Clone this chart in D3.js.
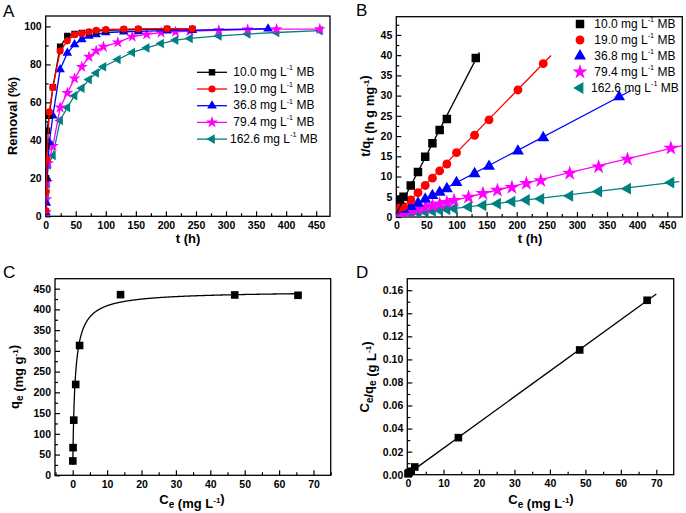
<!DOCTYPE html>
<html><head><meta charset="utf-8">
<script src="https://cdn.jsdelivr.net/npm/d3@7"></script>
<style>body{margin:0;background:#fff} svg{display:block;font-family:"Liberation Sans",Arial,sans-serif}</style>
</head><body><svg id="c" width="686" height="513"></svg>
<script>
// ---------------- DATA ----------------
const seriesLabels = ["10.0", "19.0", "36.8", "79.4", "162.6"];

// Panel A: removal (%) vs t (h)
const tA_10 = [0.5, 1, 2, 6, 12, 24, 36, 48, 60, 72, 84, 100, 130, 154, 202, 244];
const remA_10 = [20, 37, 45, 53, 68, 89.3, 95, 96, 96.5, 97, 97.5, 98, 98.2, 98.4, 98.6, 98.7];
const tA_19 = [0.5, 1, 2, 6, 12, 24, 36, 48, 60, 72, 84, 100, 130, 154, 202, 244];
const remA_19 = [3, 13, 30, 55, 68, 87, 92.4, 95.6, 96.3, 97.2, 98, 98.4, 98.6, 98.7, 98.8, 98.8];
const tA_36 = [0.5, 1, 2, 6, 12, 24, 36, 48, 60, 72, 84, 100, 130, 154, 202, 244, 370];
const remA_36 = [2, 7, 20, 39, 53, 77.3, 86, 90.5, 93.2, 95, 95.8, 96.8, 97.2, 97.4, 97.8, 98, 98.8];
const tA_79 = [0.5, 1, 2, 4, 12, 24, 36, 48, 60, 72, 84, 96, 120, 144, 168, 192, 216, 240, 288, 336, 384, 456];
const remA_79 = [2, 9, 18, 28, 37, 57.3, 65, 72.6, 78.7, 84, 87.2, 89.3, 91.6, 94.6, 95.8, 96.8, 97.2, 97.6, 98, 98.4, 98.6, 98.6];
const tA_162 = [0.5, 1, 2, 4, 12, 24, 36, 48, 60, 72, 84, 96, 120, 144, 168, 192, 216, 240, 288, 336, 384, 456];
const remA_162 = [2, 10, 17, 27, 32, 50.5, 57.3, 63.5, 67.5, 72, 75.5, 78.8, 82.6, 86.3, 88.7, 91, 92.8, 93.7, 95, 96, 96.8, 97.8];

// Panel B: t/qt vs t, with linear fits
const tB_10 = [6, 12, 24, 36, 48, 60, 72, 84, 132];
const tqB_10 = [4.3, 5.0, 7.8, 11.1, 14.9, 18.2, 21.5, 24.2, 39.3];
const tB_19 = [6, 12, 24, 36, 48, 60, 72, 84, 100, 130, 154, 202, 244];
const tqB_19 = [2.4, 2.6, 4.2, 6.0, 7.8, 9.6, 11.4, 13.1, 15.9, 20.2, 24.0, 31.4, 37.9];
const tB_36 = [2, 6, 12, 24, 36, 48, 60, 72, 84, 100, 130, 154, 202, 244, 370];
const tqB_36 = [2.8, 2.3, 1.9, 2.6, 3.4, 4.4, 5.3, 6.1, 7.0, 8.5, 10.7, 12.5, 16.3, 19.6, 29.7];
const tB_79 = [6, 12, 24, 36, 48, 60, 72, 84, 96, 120, 144, 168, 192, 216, 240, 288, 336, 384, 456];
const tqB_79 = [1.2, 1.3, 1.6, 2.0, 2.4, 2.8, 3.2, 3.6, 4.1, 4.9, 5.8, 6.6, 7.3, 8.3, 9.0, 10.8, 12.4, 14.3, 17.0];
const tB_162 = [6, 12, 24, 36, 48, 60, 72, 84, 96, 120, 144, 168, 192, 216, 240, 288, 336, 384, 456];
const tqB_162 = [0.6, 0.7, 0.9, 1.1, 1.3, 1.5, 1.7, 1.9, 2.1, 2.5, 2.9, 3.3, 3.8, 4.2, 4.5, 5.2, 6.3, 7.0, 8.5];
const fitB_slope = [0.289, 0.153, 0.0785, 0.0358, 0.0178];
const fitB_intercept = [0.8, 0.6, 0.65, 0.66, 0.38];
const fitB_tEnd = [138, 257, 390, 475, 470];

// Panel C: qe vs Ce, isotherm fit curve (Sips form)
const ceC = [0.03, 0.1, 0.3, 0.87, 2.0, 13.9, 47.1, 65.5];
const qeC = [34.6, 66.7, 133, 219, 313, 435.6, 434.8, 434];
const fitC_qm = 445, fitC_K = 1.477, fitC_n = 0.9;

// Panel D: Ce/qe vs Ce, linear fit
const ceD = [0.03, 0.1, 0.3, 0.9, 1.9, 14.2, 48.4, 67.4];
const ratioD = [0.0008, 0.0012, 0.0018, 0.0030, 0.0067, 0.0321, 0.1082, 0.1513];
const fitD_slope = 0.00223, fitD_intercept = 0.0007, fitD_range = [0.5, 70];

// tick definitions
const ticksA_x = d3.range(0, 451, 50), ticksA_y = d3.range(0, 101, 20);
const ticksB_x = d3.range(0, 451, 50), ticksB_y = d3.range(0, 46, 5);
const ticksC_x = d3.range(0, 71, 10), ticksC_y = d3.range(0, 451, 50);
const ticksD_x = d3.range(0, 71, 10), ticksD_y = d3.range(0, 0.161, 0.02);

// ---------------- STYLE ----------------
const colors = ["#000000", "#ff0000", "#0000ff", "#ff00ff", "#008080"];
const symbols = [d3.symbolSquare, d3.symbolCircle, d3.symbolTriangle, d3.symbolStar, d3.symbolTriangle];
const rotations = [0, 0, 0, 0, -90];
const TICK_FS = 10.5, LEG_FS = 12;

const svg = d3.select("#c");

function makePanel(o) {
  const x = d3.scaleLinear().domain(o.xd).range([o.l, o.r]);
  const y = d3.scaleLinear().domain(o.yd).range([o.b, o.t]);
  const g = svg.append("g");
  const clipId = "clip" + o.id;
  svg.append("clipPath").attr("id", clipId).append("rect")
    .attr("x", o.l).attr("y", o.t).attr("width", o.r - o.l).attr("height", o.b - o.t);
  g.append("g").attr("transform", `translate(0,${o.b})`)
    .call(d3.axisBottom(x).tickValues(o.xMinor).tickSize(-3).tickFormat(""))
    .call(s => s.select(".domain").remove())
    .call(s => s.selectAll("line").attr("stroke-width", 1.2));
  g.append("g").attr("transform", `translate(${o.l},0)`)
    .call(d3.axisLeft(y).tickValues(o.yMinor).tickSize(-3).tickFormat(""))
    .call(s => s.select(".domain").remove())
    .call(s => s.selectAll("line").attr("stroke-width", 1.2));
  const xa = g.append("g").attr("transform", `translate(0,${o.b})`)
    .call(d3.axisBottom(x).tickValues(o.xt).tickSize(-5).tickPadding(4).tickFormat(o.xf || d3.format("d")));
  const ya = g.append("g").attr("transform", `translate(${o.l},0)`)
    .call(d3.axisLeft(y).tickValues(o.yt).tickSize(-5).tickPadding(4).tickFormat(o.yf || d3.format("d")));
  [xa, ya].forEach(a => {
    a.select(".domain").remove();
    a.selectAll("line").attr("stroke-width", 1.2);
    a.selectAll("text").attr("font-size", TICK_FS).attr("font-weight", "bold").attr("fill", "#000")
      .attr("font-family", '"Liberation Sans",Arial,sans-serif');
  });
  xa.selectAll("text").attr("dy", "0.8em");
  g.append("rect").attr("x", o.l).attr("y", o.t).attr("width", o.r - o.l).attr("height", o.b - o.t)
    .attr("fill", "none").attr("stroke", "#000").attr("stroke-width", 1.3);
  svg.append("text").attr("x", o.letterX).attr("y", o.letterY).attr("font-size", 17).text(o.letter);
  return {x, y, g, clip: `url(#${clipId})`};
}

function addLabel(parts, x, y, rotate) {
  const t = svg.append("text").attr("font-size", 13).attr("font-weight", "bold")
    .attr("text-anchor", "middle")
    .attr("transform", `translate(${x},${y})` + (rotate ? " rotate(-90)" : ""));
  parts.forEach(p => {
    if (p.sub) {
      t.append("tspan").attr("font-size", 10).attr("dy", 3.5).text(p.sub);
      t.append("tspan").attr("dy", -3.5).text("");
    } else if (p.sup) {
      t.append("tspan").attr("font-size", 8).attr("dy", -5).text(p.sup);
      t.append("tspan").attr("dy", 5).text("");
    } else t.append("tspan").text(p.t);
  });
}

function marker(g, xs, ys, sc, i, size) {
  g.selectAll(null).data(xs.map((v, k) => [v, ys[k]])).enter().append("path")
    .attr("d", d3.symbol().type(symbols[i]).size(size))
    .attr("transform", d => `translate(${sc.x(d[0])},${sc.y(d[1])}) rotate(${rotations[i]})`)
    .attr("fill", colors[i]);
}

function legendText(g, x, y, label, fs) {
  const t = g.append("text").attr("x", x).attr("y", y).attr("font-size", fs).attr("dominant-baseline", "middle");
  t.append("tspan").text((label.length < 5 ? "\u00a0" : "") + label + " mg L");
  t.append("tspan").attr("font-size", fs * 0.6).attr("dy", -4.5).text("-1");
  t.append("tspan").attr("dy", 4.5).text(" MB");
}

// ---------------- PANEL A ----------------
const A = makePanel({id: "A", l: 45.7, r: 330, t: 16, b: 216.3, xd: [0, 473], yd: [0, 105.5],
  xt: ticksA_x, yt: ticksA_y, xMinor: d3.range(25, 473, 50), yMinor: d3.range(10, 105, 20),
  letter: "A", letterX: 3, letterY: 17});
addLabel([{t: "Removal (%)"}], 17, 116, true);
addLabel([{t: "t (h)"}], 188, 243, false);
const dataA = [[tA_10, remA_10], [tA_19, remA_19], [tA_36, remA_36], [tA_79, remA_79], [tA_162, remA_162]];
const gA = A.g.append("g").attr("clip-path", A.clip);
const mSizeA = [42, 40, 40, 45, 40];
[4, 3, 2, 0, 1].forEach(i => {
  const [ts, vs] = dataA[i];
  gA.append("path").datum(ts.map((t, k) => [t, vs[k]]))
    .attr("d", d3.line().x(d => A.x(d[0])).y(d => A.y(d[1])))
    .attr("fill", "none").attr("stroke", colors[i]).attr("stroke-width", 1.3);
  marker(gA, ts, vs, A, i, mSizeA[i]);
});
const legA = svg.append("g");
seriesLabels.forEach((lab, i) => {
  const yy = 72.3 + i * 16.7;
  legA.append("line").attr("x1", 197).attr("x2", 227).attr("y1", yy).attr("y2", yy)
    .attr("stroke", colors[i]).attr("stroke-width", 1.3);
  legA.append("path").attr("d", d3.symbol().type(symbols[i]).size(mSizeA[i]))
    .attr("transform", `translate(212,${yy}) rotate(${rotations[i]})`).attr("fill", colors[i]);
  legendText(legA, 230, yy + 0.5, lab, LEG_FS);
});

// ---------------- PANEL B ----------------
const B = makePanel({id: "B", l: 396.3, r: 682.3, t: 16.7, b: 217, xd: [0, 475], yd: [0, 49.5],
  xt: ticksB_x, yt: ticksB_y, xMinor: d3.range(25, 475, 50), yMinor: d3.range(2.5, 49, 5),
  letter: "B", letterX: 356, letterY: 16});
addLabel([{t: "t/q"}, {sub: "t"}, {t: " (h g mg"}, {sup: "-1"}, {t: ")"}], 370, 116, true);
addLabel([{t: "t (h)"}], 530, 243, false);
const dataB = [[tB_10, tqB_10], [tB_19, tqB_19], [tB_36, tqB_36], [tB_79, tqB_79], [tB_162, tqB_162]];
const gB = B.g.append("g").attr("clip-path", B.clip);
const mSizeB = [72, 62, 62, 70, 60];
[4, 3, 2, 1, 0].forEach(i => {
  const line = [0, fitB_tEnd[i]].map(t => [t, fitB_intercept[i] + fitB_slope[i] * t]);
  gB.append("path").datum(line)
    .attr("d", d3.line().x(d => B.x(d[0])).y(d => B.y(d[1])))
    .attr("fill", "none").attr("stroke", colors[i]).attr("stroke-width", 1.3);
  marker(gB, dataB[i][0], dataB[i][1], B, i, mSizeB[i]);
});
const legB = svg.append("g");
seriesLabels.forEach((lab, i) => {
  const yy = 24 + i * 16;
  legB.append("path").attr("d", d3.symbol().type(symbols[i]).size(mSizeB[i]))
    .attr("transform", `translate(580,${yy}) rotate(${rotations[i]})`).attr("fill", colors[i]);
  legendText(legB, 591, yy + 0.5, lab, LEG_FS);
});

// ---------------- PANEL C ----------------
const C = makePanel({id: "C", l: 55, r: 330.7, t: 278.7, b: 475.3, xd: [-5.15, 75], yd: [0, 474],
  xt: ticksC_x, yt: ticksC_y, xMinor: d3.range(-5, 76, 10), yMinor: d3.range(25, 474, 50),
  letter: "C", letterX: 3, letterY: 278});
addLabel([{t: "q"}, {sub: "e"}, {t: " (mg g"}, {sup: "-1"}, {t: ")"}], 19, 377, true);
addLabel([{t: "C"}, {sub: "e"}, {t: " (mg L"}, {sup: "-1"}, {t: ")"}], 192, 504, false);
const sips = c => { const v = Math.pow(fitC_K * c, fitC_n); return fitC_qm * v / (1 + v); };
const curve = d3.range(0, 1.0001, 0.002).map(u => ceC[0] + (ceC[ceC.length - 1] - ceC[0]) * Math.pow(u, 3))
  .map(c => [c, sips(c)]);
C.g.append("path").datum(curve).attr("clip-path", C.clip)
  .attr("d", d3.line().x(d => C.x(d[0])).y(d => C.y(d[1])))
  .attr("fill", "none").attr("stroke", "#000").attr("stroke-width", 1.3);
marker(C.g, ceC, qeC, C, 0, 58);

// ---------------- PANEL D ----------------
const D = makePanel({id: "D", l: 407.3, r: 673.7, t: 278.7, b: 474.7, xd: [-0.2, 74.9], yd: [0, 0.17],
  xt: ticksD_x, yt: ticksD_y, xMinor: d3.range(5, 75, 10), yMinor: d3.range(0.01, 0.17, 0.02),
  letter: "D", letterX: 356, letterY: 278, yf: d3.format(".2f")});
addLabel([{t: "C"}, {sub: "e"}, {t: "/q"}, {sub: "e"}, {t: " (g L"}, {sup: "-1"}, {t: ")"}], 369, 377, true);
addLabel([{t: "C"}, {sub: "e"}, {t: " (mg L"}, {sup: "-1"}, {t: ")"}], 541, 504, false);
D.g.append("path").datum(fitD_range.map(c => [c, fitD_intercept + fitD_slope * c])).attr("clip-path", D.clip)
  .attr("d", d3.line().x(d => D.x(d[0])).y(d => D.y(d[1])))
  .attr("fill", "none").attr("stroke", "#000").attr("stroke-width", 1.3);
marker(D.g, ceD, ratioD, D, 0, 58);
</script></body></html>
